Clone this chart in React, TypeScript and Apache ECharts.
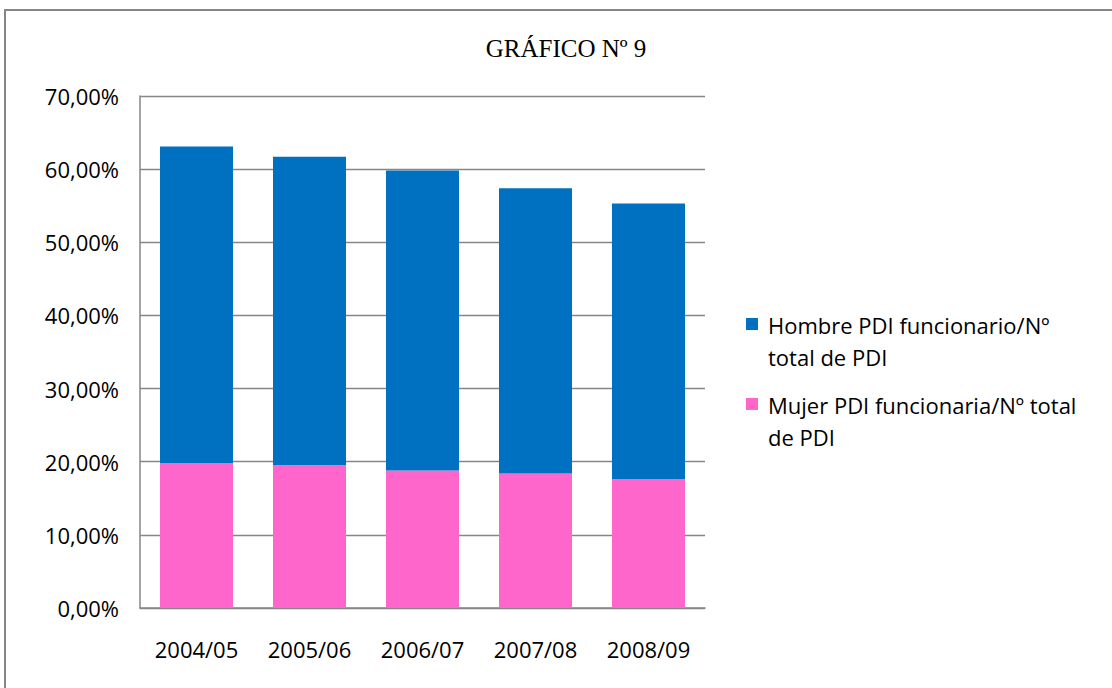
import React, { useEffect, useRef } from "react";
import * as echarts from "echarts";

const categories = ["2004/05", "2005/06", "2006/07", "2007/08", "2008/09"];
const mujerValues = [19.8, 19.5, 18.8, 18.4, 17.6];
const hombreValues = [43.3, 42.2, 41.0, 39.0, 37.7];
const hombreName = "Hombre PDI funcionario/Nº total de PDI";
const mujerName = "Mujer PDI funcionaria/Nº total de PDI";
const hombreLegend = "Hombre PDI funcionario/Nº\ntotal de PDI";
const mujerLegend = "Mujer PDI funcionaria/Nº total\nde PDI";
const titleText = "GRÁFICO Nº 9";
const yTicks = { min: 0, max: 70, interval: 10 };

const BLUE = "#0070C0";
const PINK = "#FF66CC";
const GRAY = "#868686";
const FONT = "'Open Sans', sans-serif";

export default function App() {
  const ref = useRef<HTMLDivElement>(null);
  useEffect(() => {
    if (!ref.current) return;
    const chart = echarts.init(ref.current, null, { renderer: "svg" });
    chart.setOption({
      animation: false,
      backgroundColor: "#ffffff",
      grid: { left: 140, top: 96, width: 565, height: 512, containLabel: false },
      xAxis: {
        type: "category",
        data: categories,
        axisLine: { show: true, lineStyle: { color: GRAY, width: 1.5 } },
        axisTick: { show: false },
        axisLabel: {
          color: "#000",
          fontFamily: FONT,
          fontSize: 22,
          margin: 30,
          interval: 0,
          hideOverlap: false,
        },
      },
      yAxis: {
        type: "value",
        min: yTicks.min,
        max: yTicks.max,
        interval: yTicks.interval,
        axisLine: { show: true, lineStyle: { color: GRAY, width: 1.5 } },
        axisTick: { show: false },
        splitLine: { show: true, lineStyle: { color: GRAY, width: 1.3 } },
        axisLabel: {
          color: "#000",
          fontFamily: FONT,
          fontSize: 22,
          margin: 21,
          formatter: (v: number) => v.toFixed(2).replace(".", ",") + "%",
        },
      },
      series: [
        {
          name: mujerName,
          type: "bar",
          stack: "total",
          data: mujerValues,
          barWidth: 73,
          itemStyle: { color: PINK },
        },
        {
          name: hombreName,
          type: "bar",
          stack: "total",
          data: hombreValues,
          barWidth: 73,
          itemStyle: { color: BLUE },
        },
      ],
      graphic: [
        {
          type: "rect",
          shape: { x: 5, y: 10, width: 1130, height: 700 },
          style: { fill: "none", stroke: GRAY, lineWidth: 2 },
          silent: true,
        },
        {
          type: "text",
          x: 566,
          y: 48,
          style: {
            text: titleText,
            fontFamily: "'Liberation Serif', serif",
            fontSize: 25,
            fill: "#000",
            align: "center",
            verticalAlign: "middle",
          },
        },
        {
          type: "rect",
          shape: { x: 746, y: 318, width: 12, height: 12 },
          style: { fill: BLUE },
        },
        {
          type: "text",
          x: 768,
          y: 309,
          style: {
            text: hombreLegend,
            fontFamily: FONT,
            fontSize: 22,
            lineHeight: 32,
            fill: "#000",
            align: "left",
            verticalAlign: "top",
          },
        },
        {
          type: "rect",
          shape: { x: 746, y: 398, width: 12, height: 12 },
          style: { fill: PINK },
        },
        {
          type: "text",
          x: 768,
          y: 389,
          style: {
            text: mujerLegend,
            fontFamily: FONT,
            fontSize: 22,
            lineHeight: 32,
            fill: "#000",
            align: "left",
            verticalAlign: "top",
          },
        },
      ],
    });
    return () => chart.dispose();
  }, []);
  return (
    <div
      ref={ref}
      style={{ position: "absolute", left: 0, top: 0, width: 1112, height: 688 }}
    />
  );
}
